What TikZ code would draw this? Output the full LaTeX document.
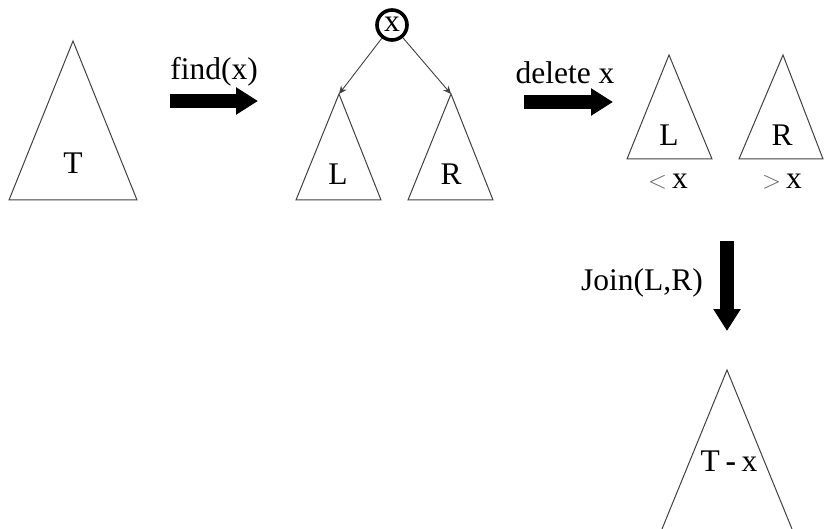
\documentclass[tikz,border=0pt]{standalone}
\usepackage{fontspec}
\setmainfont{Liberation Serif}
\usetikzlibrary{arrows.meta}
\begin{document}
\begin{tikzpicture}[x=1pt,y=-1pt,
  tri/.style={draw=black!75,line width=1pt,line join=miter},
  lbl/.style={inner sep=0pt,font=\fontsize{31.5}{36}\selectfont},
  bigarrow/.style={line width=14pt,-{Triangle[length=22pt,width=26pt]}},
  thinarrow/.style={draw=black!75,line width=0.9pt,-{Stealth[length=8pt,width=7pt]}}]
\useasboundingbox (0,0) rectangle (824,529);
% T
\coordinate (Ta) at (73,41);
\draw[tri] (Ta) -- (9,200) -- (137,200) -- cycle;
\node[lbl] (T) at (73,163) {T};
% find(x)
\coordinate (f1) at (170,101);
\coordinate (f2) at (258,101);
\draw[bigarrow] (f1) -- (f2);
\node[lbl] (find) at (214,72) {find(x)};
% x node
\node[circle,draw,line width=3.6pt,minimum size=30pt,inner sep=0pt] (x) at (392,25) {};
\node[lbl] (xl) at (392,24) {x};
% L and R
\coordinate (La) at (339,94);
\coordinate (Ra) at (451,94);
\draw[tri] (La) -- (296,200) -- (381,200) -- cycle;
\draw[tri] (Ra) -- (408,200) -- (493,200) -- cycle;
\node[lbl] (L) at (338,174) {L};
\node[lbl] (R) at (451,174) {R};
\draw[thinarrow] (x) -- (La);
\draw[thinarrow] (x) -- (Ra);
% delete x
\coordinate (d1) at (524,102);
\coordinate (d2) at (613,102);
\draw[bigarrow] (d1) -- (d2);
\node[lbl] (del) at (565,73) {delete x};
% small L, R
\coordinate (sLa) at (669,55);
\coordinate (sRa) at (783,55);
\draw[tri] (sLa) -- (627,159) -- (712,159) -- cycle;
\draw[tri] (sRa) -- (739,159) -- (823,159) -- cycle;
\node[lbl] (sL) at (669,135) {L};
\node[lbl] (sR) at (782,135) {R};
\node[lbl] (lt) at (668,182) {{\color{black!60}$<$}\,x};
\node[lbl] (gt) at (782,182) {{\color{black!60}$>$}\,x};
% Join
\coordinate (j1) at (727,241);
\coordinate (j2) at (727,331);
\draw[bigarrow] (j1) -- (j2);
\node[lbl] (join) at (642,283) {Join(L,R)};
% T - x
\coordinate (Txa) at (727,370);
\draw[tri] (662,529) -- (Txa) -- (792,529);
\node[lbl] (Tx) at (729,461) {T\hspace{0.18em}\textbf{-}\hspace{0.18em}x};
\end{tikzpicture}
\end{document}
